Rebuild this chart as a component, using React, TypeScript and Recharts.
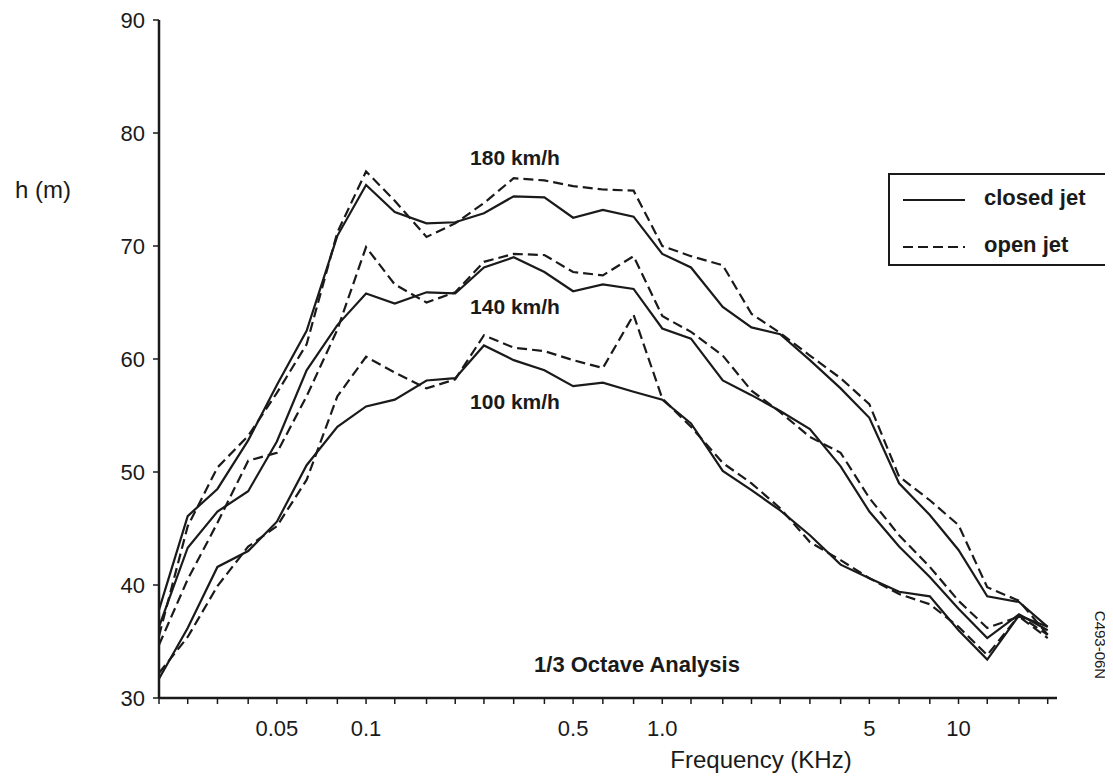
import React from 'react';
import { LineChart, Line, XAxis, YAxis } from 'recharts';

// 1/3-octave band centre frequencies (kHz)
const bandFreqs = [0.02, 0.025, 0.0315, 0.04, 0.05, 0.063, 0.08, 0.1, 0.125, 0.16, 0.2, 0.25, 0.315, 0.4, 0.5, 0.63, 0.8, 1.0, 1.25, 1.6, 2.0, 2.5, 3.15, 4, 5, 6.3, 8, 10, 12.5, 16, 20];

const closed180 = [37.8, 46.1, 48.5, 52.8, 57.7, 62.5, 70.9, 75.4, 73.0, 72.0, 72.1, 72.9, 74.4, 74.3, 72.5, 73.2, 72.6, 69.3, 68.1, 64.6, 62.8, 62.2, 59.9, 57.4, 54.8, 49.0, 46.2, 43.1, 39.0, 38.5, 36.3];
const open180 = [35.5, 45.2, 50.4, 53.2, 57.0, 61.3, 71.2, 76.6, 74.0, 70.8, 72.0, 73.8, 76.0, 75.8, 75.3, 75.0, 74.9, 70.0, 69.1, 68.3, 64.0, 62.3, 60.3, 58.3, 56.0, 49.6, 47.5, 45.3, 39.8, 38.6, 35.6];
const closed140 = [36.3, 43.3, 46.5, 48.3, 52.7, 59.0, 63.0, 65.8, 64.9, 65.9, 65.8, 68.1, 69.0, 67.7, 66.0, 66.6, 66.2, 62.7, 61.8, 58.1, 56.8, 55.4, 53.8, 50.5, 46.5, 43.4, 40.7, 37.9, 35.3, 37.4, 36.0];
const open140 = [34.7, 40.5, 45.5, 51.0, 51.7, 56.7, 62.6, 69.9, 66.6, 65.0, 65.9, 68.6, 69.3, 69.2, 67.7, 67.4, 69.1, 63.8, 62.4, 60.3, 57.2, 55.3, 53.1, 51.7, 47.7, 44.4, 41.6, 38.6, 36.2, 37.2, 35.3];
const closed100 = [31.7, 36.2, 41.6, 43.0, 45.6, 50.6, 54.0, 55.8, 56.4, 58.1, 58.3, 61.2, 59.9, 59.0, 57.6, 57.9, 57.1, 56.4, 54.3, 50.1, 48.4, 46.6, 44.4, 41.8, 40.6, 39.4, 39.0, 36.0, 33.4, 37.3, 36.3];
const open100 = [32.2, 35.4, 39.9, 43.4, 45.2, 49.3, 56.7, 60.2, 58.8, 57.4, 58.2, 62.1, 61.0, 60.7, 59.9, 59.2, 63.9, 56.5, 54.0, 50.8, 49.0, 46.8, 43.8, 42.2, 40.6, 39.2, 38.3, 36.3, 33.8, 37.3, 35.6];

const xTickLabels: Record<string, string> = { '0.05': '0.05', '0.1': '0.1', '0.5': '0.5', '1': '1.0', '5': '5', '10': '10' };
const yTicks = [30, 40, 50, 60, 70, 80, 90];

const data = bandFreqs.map((f, i) => ({
  f,
  c180: closed180[i],
  o180: open180[i],
  c140: closed140[i],
  o140: open140[i],
  c100: closed100[i],
  o100: open100[i],
}));

const FONT = '"Liberation Sans", Arial, Helvetica, sans-serif';
const INK = '#1a1a1a';
const DASH = '10 5';

const solidKeys = ['c180', 'c140', 'c100'];
const dashedKeys = ['o180', 'o140', 'o100'];

const Txt = ({ x, y, size, bold, children, rotate }: any) => (
  <div
    style={{
      position: 'absolute',
      left: x,
      top: y,
      transform: `translate(-50%, -50%)${rotate ? ` rotate(${rotate}deg)` : ''}`,
      fontSize: size,
      fontWeight: bold ? 700 : 400,
      whiteSpace: 'nowrap',
      color: INK,
      lineHeight: 1,
    }}
  >
    {children}
  </div>
);

const LegendBox = () => (
  <div
    style={{
      position: 'absolute',
      left: 880,
      top: 165,
      boxSizing: 'border-box',
      width: 221,
      height: 93,
      border: `2px solid ${INK}`,
      background: '#fff',
      fontFamily: FONT,
      fontWeight: 700,
      fontSize: 22,
      color: INK,
    }}
  >
    <svg width={70} height={80} style={{ position: 'absolute', left: 11, top: 5 }}>
      <line x1={2} x2={64} y1={20} y2={20} stroke={INK} strokeWidth={2.2} />
      <line x1={2} x2={64} y1={67} y2={67} stroke={INK} strokeWidth={2.2} strokeDasharray={DASH} />
    </svg>
    <div style={{ position: 'absolute', left: 94, top: 12, lineHeight: 1 }}>closed jet</div>
    <div style={{ position: 'absolute', left: 94, top: 59, lineHeight: 1 }}>open jet</div>
  </div>
);

export default function App() {
  return (
    <div style={{ position: 'relative', width: 1097, height: 765, fontFamily: FONT, background: '#fff' }}>
      <LineChart width={1097} height={765} data={data} margin={{ top: 12, right: 48, bottom: 0, left: 0 }}>
        <XAxis
          dataKey="f"
          type="number"
          scale="log"
          domain={[0.02, 21.5]}
          ticks={bandFreqs}
          interval={0}
          allowDataOverflow
          tickFormatter={(v: number) => xTickLabels[String(v)] ?? ''}
          height={75}
          tickSize={6}
          tickMargin={16}
          axisLine={{ stroke: INK, strokeWidth: 2.5 }}
          tickLine={{ stroke: INK, strokeWidth: 1.5 }}
          tick={{ fill: INK, fontSize: 22, fontFamily: FONT }}
        />
        <YAxis
          type="number"
          domain={[30, 90]}
          ticks={yTicks}
          interval={0}
          width={151}
          tickSize={6}
          tickMargin={8}
          axisLine={{ stroke: INK, strokeWidth: 2.5 }}
          tickLine={{ stroke: INK, strokeWidth: 1.5 }}
          tick={{ fill: INK, fontSize: 22, fontFamily: FONT }}
        />
        {solidKeys.map((k) => (
          <Line key={k} dataKey={k} type="linear" stroke={INK} strokeWidth={2.2} dot={false} activeDot={false} isAnimationActive={false} legendType="none" />
        ))}
        {dashedKeys.map((k) => (
          <Line key={k} dataKey={k} type="linear" stroke={INK} strokeWidth={2.2} strokeDasharray={DASH} dot={false} activeDot={false} isAnimationActive={false} legendType="none" />
        ))}
      </LineChart>
      <LegendBox />
      <Txt x={35} y={182} size={24}>h (m)</Txt>
      <Txt x={753} y={752} size={24}>Frequency (KHz)</Txt>
      <Txt x={629} y={657} size={22} bold>1/3 Octave Analysis</Txt>
      <Txt x={507} y={149} size={21} bold>180 km/h</Txt>
      <Txt x={507} y={298} size={21} bold>140 km/h</Txt>
      <Txt x={507} y={393} size={21} bold>100 km/h</Txt>
      <Txt x={1092} y={637} size={15} rotate={90}>C493-06N</Txt>
    </div>
  );
}
